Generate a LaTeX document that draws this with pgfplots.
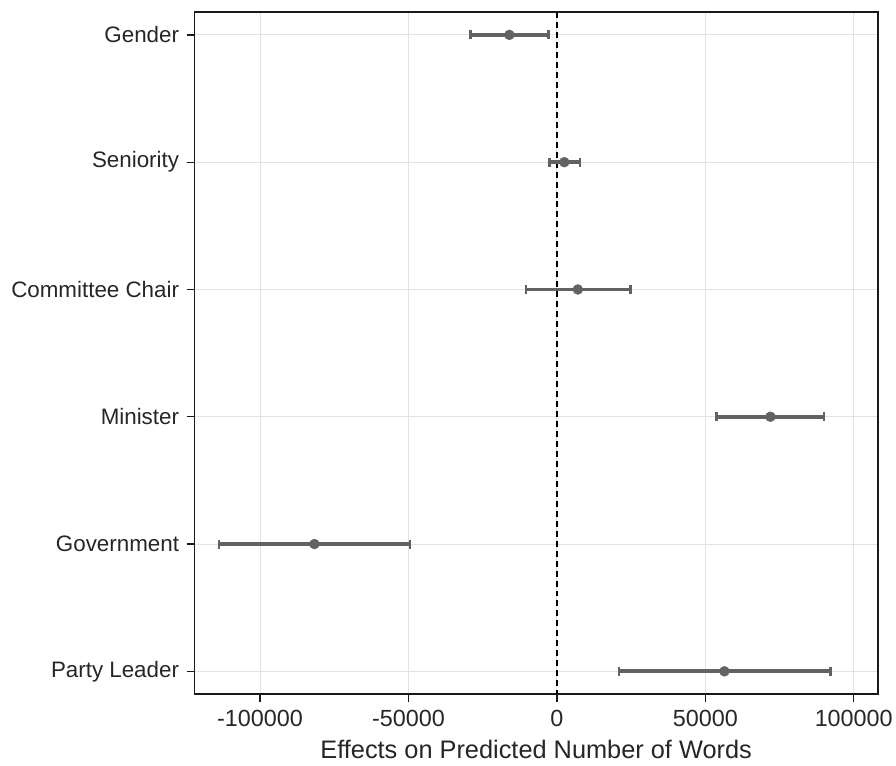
\documentclass[border=0pt]{standalone}
\usepackage{pgfplots}
\pgfplotsset{compat=1.18}
\usepackage{pgfplotstable}
\usepackage{fontspec}
\setmainfont{Liberation Sans}
\definecolor{ptgray}{HTML}{626262}
\definecolor{gridgray}{HTML}{E2E2E2}
\pgfplotstableread{
pos est lo hi
0 -16000 -29100 -2800
1 2500 -2550 7850
2 7060 -10420 24870
3 71930 53760 89970
4 -81680 -113860 -49460
5 56440 20970 92180
}\coefs
\begin{document}
\begin{tikzpicture}
\begin{axis}[
  scale only axis,
  width=685bp, height=684bp,
  xmin=-122080, xmax=108100,
  ymin=-0.18, ymax=5.18,
  y dir=reverse,
  ytick={0,1,2,3,4,5},
  yticklabels={Gender,Seniority,Committee Chair,Minister,Government,Party Leader},
  xtick={-100000,-50000,0,50000,100000},
  xticklabels={-100000,-50000,0,50000,100000},
  scaled ticks=false,
  yticklabel style={font=\fontsize{22.5}{24}\selectfont, text=black!85, xshift=-4bp},
  xticklabel style={font=\fontsize{23.5}{25}\selectfont, text=black!85, yshift=-4bp},
  xlabel={Effects on Predicted Number of Words},
  xlabel style={font=\fontsize{25.5}{27}\selectfont, text=black!85, yshift=-7bp},
  grid=major,
  major grid style={gridgray, line width=0.8bp},
  axis line style={line width=1.6bp, black!90},
  tick style={line width=1.3bp, black!90},
  tick align=outside,
  xtick pos=bottom, ytick pos=left,
  major tick length=8bp,
  clip=false,
]
\draw[line width=2.2bp, black, dash pattern=on 6bp off 4bp] (axis cs:0,-0.18) -- (axis cs:0,5.18);
\addplot[only marks, mark=*, mark size=5bp, color=ptgray,
  error bars/.cd, x dir=both, x explicit,
  error mark=|,
  error bar style={line width=3.8bp, color=ptgray, solid},
  error mark options={mark size=4.5bp, line width=2.5bp, color=ptgray}]
  table[x=est, y=pos,
    x error plus expr=\thisrow{hi}-\thisrow{est},
    x error minus expr=\thisrow{est}-\thisrow{lo}] {\coefs};
\end{axis}
\path (current axis.south west) ++(-195bp,-71bp) coordinate (bl);
\path (current axis.north east) ++(16bp,12bp) coordinate (tr);
\path (bl) rectangle (tr);
\end{tikzpicture}
\end{document}
